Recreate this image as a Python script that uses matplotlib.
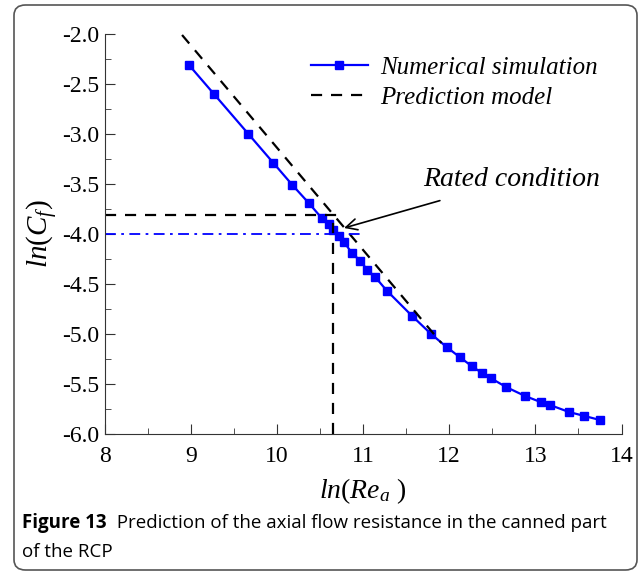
import numpy as np
import matplotlib.pyplot as plt
from matplotlib.patches import FancyBboxPatch
from matplotlib.ticker import MultipleLocator

plt.rcParams['font.family'] = 'Liberation Serif'
plt.rcParams['mathtext.fontset'] = 'custom'
plt.rcParams['mathtext.rm'] = 'Liberation Serif'
plt.rcParams['mathtext.it'] = 'Liberation Serif:italic'

# numerical simulation (ln Re_a, ln Cf)
sim_x = [8.98, 9.27, 9.67, 9.96, 10.18, 10.37, 10.52, 10.60, 10.65, 10.72,
         10.78, 10.87, 10.97, 11.05, 11.14, 11.28, 11.57, 11.79, 11.97, 12.12,
         12.26, 12.38, 12.48, 12.66, 12.88, 13.06, 13.17, 13.39, 13.57, 13.75]
sim_y = [-2.31, -2.60, -3.00, -3.29, -3.51, -3.69, -3.84, -3.90, -3.96, -4.02,
         -4.08, -4.19, -4.27, -4.36, -4.43, -4.57, -4.82, -5.00, -5.13, -5.23,
         -5.32, -5.39, -5.44, -5.53, -5.62, -5.68, -5.71, -5.78, -5.82, -5.86]

# prediction model
pred_x = [8.90, 11.91]
pred_y = [-2.01, -5.09]

# rated condition
rated_x = 10.65
rated_pred = -3.81
rated_sim = -4.0
sim_line_end = 10.98

fig = plt.figure(figsize=(6.4, 5.73), dpi=100)
ax = fig.add_axes([0.1633, 0.2426, 0.8078, 0.6981])

ax.plot(sim_x, sim_y, color='#0000ff', lw=1.6, marker='s', ms=6,
        label='Numerical simulation')
ax.plot(pred_x, pred_y, color='black', lw=1.6, ls=(0, (5, 4)),
        label='Prediction model')

ax.plot([8, rated_x + 0.1], [rated_pred, rated_pred], color='black', lw=1.6, ls=(0, (5, 4)))
ax.plot([rated_x, rated_x], [-6, rated_pred], color='black', lw=1.6, ls=(0, (5, 4)))
ax.plot([8, sim_line_end], [rated_sim, rated_sim], color='#0000ff', lw=1.3,
        ls=(0, (6, 3, 1.5, 3)))

ax.annotate('Rated condition', xy=(10.78, -3.94), xytext=(12.73, -3.46),
            fontsize=20, style='italic', ha='center', va='center',
            arrowprops=dict(arrowstyle='->', color='black', lw=1.2,
                            shrinkA=14, shrinkB=0))

ax.set_xlim(8, 14)
ax.set_ylim(-6, -2)
ax.xaxis.set_major_locator(MultipleLocator(1))
ax.xaxis.set_minor_locator(MultipleLocator(0.5))
ax.yaxis.set_major_locator(MultipleLocator(0.5))
ax.yaxis.set_minor_locator(MultipleLocator(0.25))
ax.set_yticklabels([f'{v:.1f}' for v in ax.get_yticks()])
ax.tick_params(which='both', direction='in', labelsize=17, color='#333333')
ax.tick_params(which='major', length=7)
ax.tick_params(which='minor', length=4)
ax.tick_params(axis='x', pad=9)
ax.spines['top'].set_visible(False)
ax.spines['right'].set_visible(False)
for s in ['left', 'bottom']:
    ax.spines[s].set_color('#333333')

ax.set_xlabel(r'$\mathit{ln(Re_{a}\ )}$', fontsize=20, labelpad=6)
ax.set_ylabel(r'$\mathit{ln(C_{f})}$', fontsize=21, labelpad=2)

ax.legend(loc='upper left', bbox_to_anchor=(0.355, 1.0), frameon=False,
          handlelength=2.3, handletextpad=0.5, labelspacing=0.3,
          prop={'family': 'Liberation Serif', 'style': 'italic', 'size': 18})

# caption and frame
frame = FancyBboxPatch((14 / 640, 3 / 573), 623 / 640, 565 / 573,
                       boxstyle='round,pad=0,rounding_size=0.018',
                       transform=fig.transFigure, fill=False,
                       edgecolor='#555555', lw=1.2)
fig.patches.append(frame)
t = fig.text(22 / 640, 1 - 523 / 573, 'Figure 13', fontfamily='Open Sans',
             fontweight='bold', fontsize=13.5, va='center')
ax.annotate('  Prediction of the axial flow resistance in the canned part',
            xy=(1, 0.5), xycoords=t, va='center', fontfamily='Open Sans',
            fontsize=13.5, annotation_clip=False)
fig.text(22 / 640, 1 - 552 / 573, 'of the RCP', fontfamily='Open Sans',
         fontsize=13.5, va='center')

fig.savefig('out.png', dpi=100)
